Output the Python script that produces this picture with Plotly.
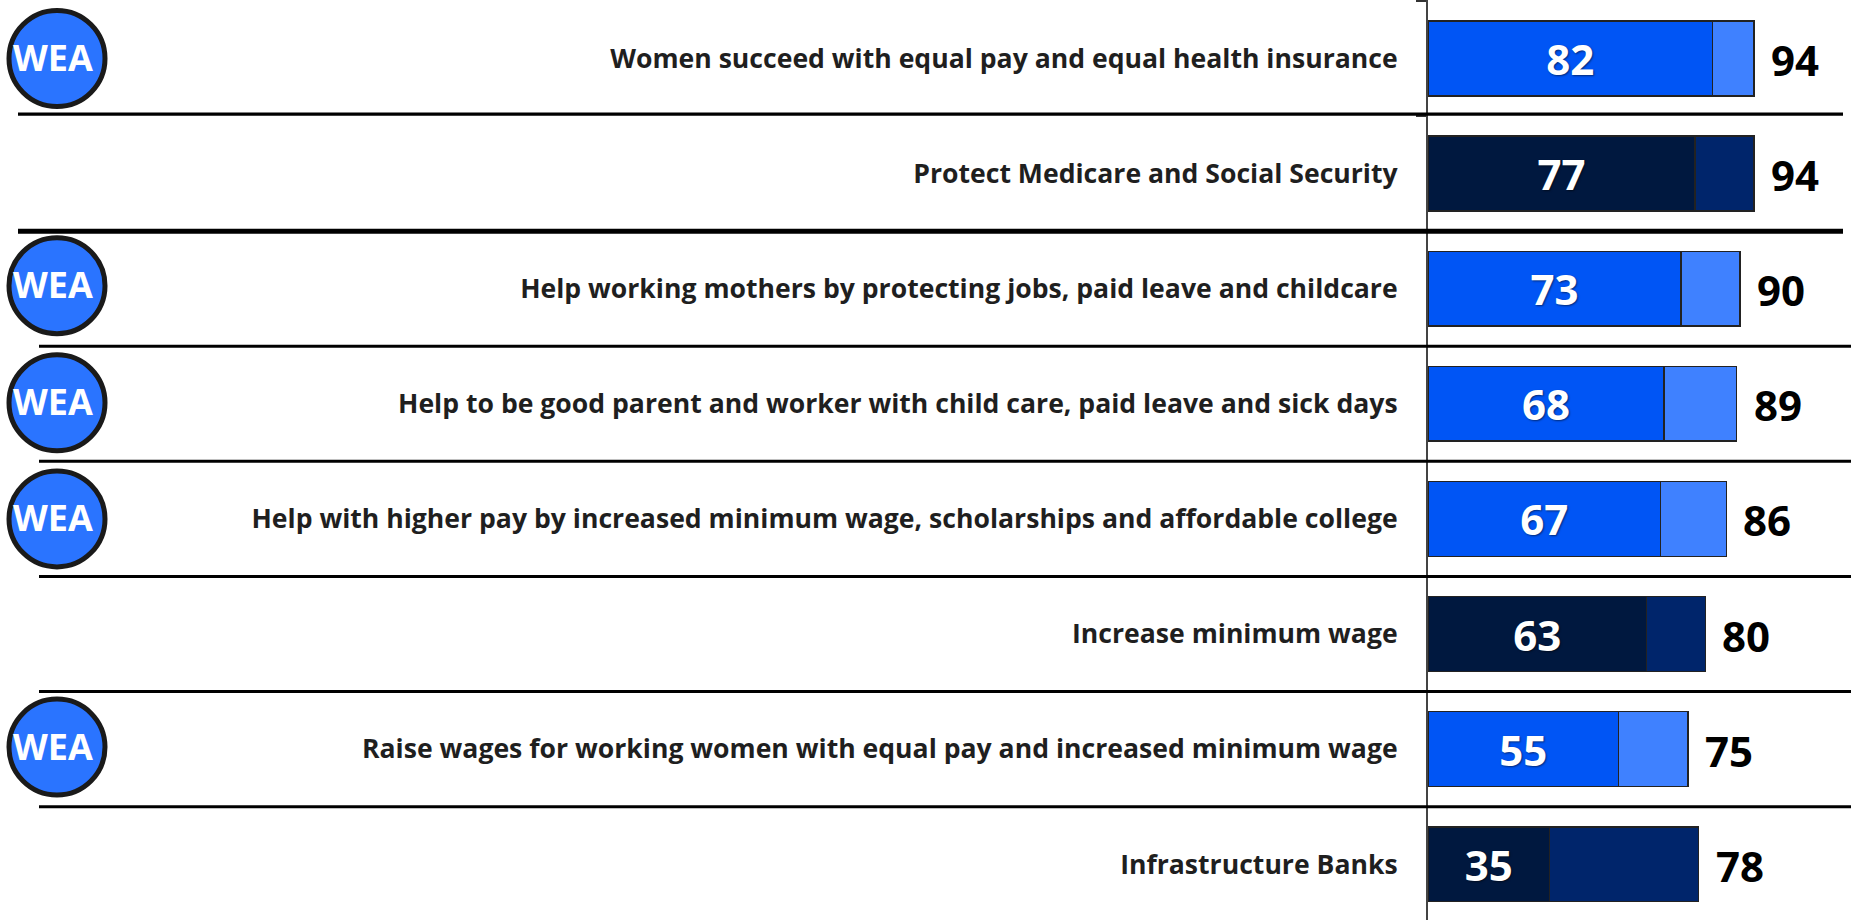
import plotly.graph_objects as go

categories = [
    "Women succeed with equal pay and equal health insurance",
    "Protect Medicare and Social Security",
    "Help working mothers by protecting jobs, paid leave and childcare",
    "Help to be good parent and worker with child care, paid leave and sick days",
    "Help with higher pay by increased minimum wage, scholarships and affordable college",
    "Increase minimum wage",
    "Raise wages for working women with equal pay and increased minimum wage",
    "Infrastructure Banks",
]
strong = [82, 77, 73, 68, 67, 63, 55, 35]
total = [94, 94, 90, 89, 86, 80, 75, 78]
wea = [True, False, True, True, True, False, True, False]
somewhat = [t - s for t, s in zip(total, strong)]

W, H = 1851, 920
AXIS_X = 1428
PX_PER_UNIT = 3.468
ROW_PX = 115.1
FIRST_ROW_PX = 58.5
FONT = "Open Sans"

strong_colors = ["#0055F5" if w else "#00183F" for w in wea]
light_colors = ["#3F81FF" if w else "#00256B" for w in wea]
EDGE = "#222222"

fig = go.Figure()
fig.add_bar(y=categories, x=strong, orientation="h", name="Strongly",
            marker=dict(color=strong_colors, line=dict(color=EDGE, width=1.5)),
            text=strong, textposition="inside", insidetextanchor="middle",
            textangle=0, constraintext="none",
            textfont=dict(family=FONT, size=42, color="white", weight=700,
                          shadow="1px 1px 2px rgba(0,0,0,0.5)"),
            hoverinfo="skip")
fig.add_bar(y=categories, x=somewhat, orientation="h", name="Total",
            marker=dict(color=light_colors, line=dict(color=EDGE, width=1.5)),
            hoverinfo="skip")

annotations = [
    dict(x=t, y=c, xref="x", yref="y", text=str(t), showarrow=False,
         xanchor="left", xshift=15, yshift=-1,
         font=dict(family=FONT, size=42, color="black", weight=700))
    for t, c in zip(total, categories)
]
shapes = []

# Row separators
sep_left = [18, 18, 39, 39, 39, 39, 39]
sep_width = [3.3, 5, 3, 3, 3, 3, 3]
sep_right = [1843, 1843, 1851, 1851, 1851, 1851, 1851]
sep_nudge = [-2, 0, 0, 0, 0, 0, 0]
for i in range(7):
    yy = i + 0.5 + sep_nudge[i] / ROW_PX
    shapes.append(dict(type="line", xref="paper", yref="y",
                       x0=sep_left[i] / W, x1=sep_right[i] / W, y0=yy, y1=yy,
                       line=dict(color="black", width=sep_width[i]), layer="above"))

# WEA badges
badge_shift = [0, 0, -3, -1, 0, 0, -2, 0]
for i, (w, c) in enumerate(zip(wea, categories)):
    if not w:
        continue
    shapes.append(dict(type="circle", xref="paper", yref="y", xsizemode="pixel", ysizemode="pixel",
                       xanchor=57 / W, yanchor=i, x0=-48, x1=48,
                       y0=-48 - badge_shift[i], y1=48 - badge_shift[i],
                       fillcolor="#2A74FF", line=dict(color="#1A1A1A", width=5), layer="above"))
    annotations.append(dict(x=53 / W, y=c, xref="paper", yref="y", text="WEA", showarrow=False,
                            xanchor="center", yshift=-badge_shift[i] + 1,
                            font=dict(family=FONT, size=36, color="white", weight=700)))

fig.update_layout(
    width=W, height=H,
    barmode="stack", bargap=0.35, showlegend=False,
    margin=dict(l=0, r=0, t=0, b=0, pad=0),
    paper_bgcolor="white", plot_bgcolor="white",
    annotations=annotations, shapes=shapes,
    xaxis=dict(domain=[AXIS_X / W, 1], range=[0, (W - AXIS_X) / PX_PER_UNIT],
               visible=False, fixedrange=True),
    yaxis=dict(type="category", categoryorder="array", categoryarray=categories,
               range=[(H - FIRST_ROW_PX) / ROW_PX, -FIRST_ROW_PX / ROW_PX], showgrid=False,
               showline=True, linecolor="#444444", linewidth=2,
               ticks="outside", tickson="boundaries", ticklen=10, tickcolor="#333333", tickwidth=2,
               ticklabelstandoff=23,
               tickfont=dict(family=FONT, size=26.6, color="#1F1F1F", weight=700),
               automargin=False),
)
fig.write_html("out.html", config=dict(displayModeBar=False),
               post_script="document.body.style.margin='0';document.documentElement.style.overflow='hidden';")
